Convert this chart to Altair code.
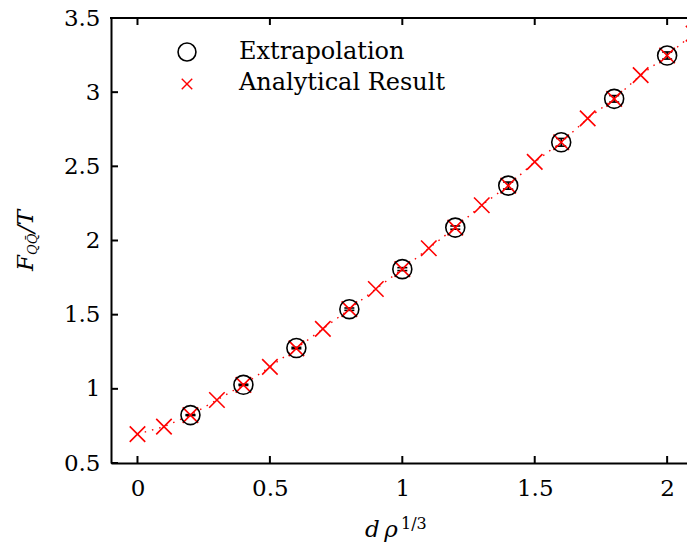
import altair as alt
import pandas as pd

# Analytical result (red crosses, dotted line)
x_analytic = [0.0, 0.1, 0.2, 0.3, 0.4, 0.5, 0.6, 0.7, 0.8, 0.9, 1.0,
              1.1, 1.2, 1.3, 1.4, 1.5, 1.6, 1.7, 1.8, 1.9, 2.0, 2.1]
y_analytic = [0.695, 0.745, 0.823, 0.925, 1.027, 1.148, 1.273, 1.404, 1.537, 1.673, 1.807,
              1.948, 2.087, 2.238, 2.370, 2.530, 2.662, 2.823, 2.955, 3.115, 3.247, 3.395]

# Extrapolation (black circles with error bars)
x_extrap = [0.2, 0.4, 0.6, 0.8, 1.0, 1.2, 1.4, 1.6, 1.8, 2.0]
y_extrap = [0.823, 1.027, 1.275, 1.537, 1.807, 2.087, 2.370, 2.662, 2.955, 3.247]
err_extrap = [0.003, 0.004, 0.005, 0.008, 0.010, 0.011, 0.024, 0.026, 0.022, 0.024]

x_ticks = [0, 0.5, 1, 1.5, 2]
y_ticks = [0.5, 1, 1.5, 2, 2.5, 3, 3.5]
legend_labels = ["Extrapolation", "Analytical Result"]

W, H = 576, 445
FONT = "DejaVu Serif"

df_a = pd.DataFrame({"x": x_analytic, "y": y_analytic})
df_e = pd.DataFrame({"x": x_extrap, "y": y_extrap, "err": err_extrap})
df_e["lo"] = df_e["y"] - df_e["err"]
df_e["hi"] = df_e["y"] + df_e["err"]
df_xt = pd.DataFrame({"t": x_ticks})
df_yt = pd.DataFrame({"t": y_ticks})
df_leg = pd.DataFrame({"label": legend_labels})

xs = alt.Scale(domain=[-0.1, 2.075], nice=False, zero=False)
ys = alt.Scale(domain=[0.5, 3.5], nice=False, zero=False)

x_axis = alt.Axis(values=x_ticks, ticks=False, domain=True, domainColor="black", domainWidth=2,
                  labelFont=FONT, labelFontSize=23, labelColor="black", labelPadding=14,
                  grid=False, title=None, labelFlush=False, labelOverlap=False,
                  labelExpr="format(datum.value, '')")
y_axis = alt.Axis(values=y_ticks, ticks=False, domain=True, domainColor="black", domainWidth=2,
                  labelFont=FONT, labelFontSize=23, labelColor="black", labelPadding=11,
                  grid=False, title=None, labelFlush=False, labelOverlap=False,
                  labelExpr="format(datum.value, '')")

line = alt.Chart(df_a).mark_line(color="red", strokeDash=[1.5, 6], strokeWidth=1.4, clip=True).encode(
    x=alt.X("x:Q", scale=xs, axis=x_axis),
    y=alt.Y("y:Q", scale=ys, axis=y_axis),
)

cross_shape = "M-1,-1L1,1M-1,1L1,-1"
crosses = alt.Chart(df_a).mark_point(shape=cross_shape, size=240, filled=False, color="red",
                                     strokeWidth=1.6, clip=True, opacity=1).encode(
    x=alt.X("x:Q", scale=xs), y=alt.Y("y:Q", scale=ys))

circles = alt.Chart(df_e).mark_point(shape="circle", size=360, filled=False, color="black",
                                     strokeWidth=1.6, opacity=1).encode(
    x=alt.X("x:Q", scale=xs), y=alt.Y("y:Q", scale=ys))

ebar = alt.Chart(df_e).mark_rule(color="black", strokeWidth=1.6).encode(
    x=alt.X("x:Q", scale=xs), y=alt.Y("lo:Q", scale=ys), y2="hi:Q")
cap_lo = alt.Chart(df_e).mark_tick(color="black", thickness=1.6, size=10, orient="horizontal", opacity=1).encode(
    x=alt.X("x:Q", scale=xs), y=alt.Y("lo:Q", scale=ys))
cap_hi = alt.Chart(df_e).mark_tick(color="black", thickness=1.6, size=10, orient="horizontal", opacity=1).encode(
    x=alt.X("x:Q", scale=xs), y=alt.Y("hi:Q", scale=ys))

# frame: top line and inward ticks
top_line = alt.Chart(df_xt).mark_rule(color="black", strokeWidth=2).encode(
    x=alt.value(-1), x2=alt.value(W), y=alt.value(0))
xt_bottom = alt.Chart(df_xt).mark_rule(color="black", strokeWidth=2).encode(
    x=alt.X("t:Q", scale=xs), y=alt.value(H), y2=alt.value(H - 7))
xt_top = alt.Chart(df_xt).mark_rule(color="black", strokeWidth=2).encode(
    x=alt.X("t:Q", scale=xs), y=alt.value(0), y2=alt.value(7))
yt_left = alt.Chart(df_yt).mark_rule(color="black", strokeWidth=2).encode(
    y=alt.Y("t:Q", scale=ys), x=alt.value(0), x2=alt.value(7))

# legend
leg_circle = alt.Chart(df_leg).transform_filter(alt.datum.label == legend_labels[0]).mark_point(
    shape="circle", size=320, filled=False, color="black", strokeWidth=1.6, opacity=1).encode(
    x=alt.value(76), y=alt.value(34))
leg_cross = alt.Chart(df_leg).transform_filter(alt.datum.label == legend_labels[1]).mark_point(
    shape=cross_shape, size=110, filled=False, color="red", strokeWidth=1.4, opacity=1).encode(
    x=alt.value(76), y=alt.value(66))
leg_text1 = alt.Chart(df_leg).transform_filter(alt.datum.label == legend_labels[0]).mark_text(
    font=FONT, fontSize=24, align="left", baseline="alphabetic", color="black").encode(
    x=alt.value(128), y=alt.value(41), text="label:N")
leg_text2 = alt.Chart(df_leg).transform_filter(alt.datum.label == legend_labels[1]).mark_text(
    font=FONT, fontSize=24, align="left", baseline="alphabetic", color="black").encode(
    x=alt.value(128), y=alt.value(72), text="label:N")

# axis titles (math-like)
def txt(s, x, y, size, style="italic", angle=0):
    props = dict(font=FONT, fontSize=size, fontStyle=style, align="left",
                 baseline="alphabetic", color="black")
    if angle:
        props["angle"] = angle
    return alt.Chart(pd.DataFrame({"s": [s]})).mark_text(**props).encode(
        x=alt.value(x), y=alt.value(y), text="s:N")

xt1 = txt("d\u2009\u03c1", 254, 519, 23)
xt2 = txt("1/3", 290, 511, 16, style="normal")
yt1 = txt("F", -78, 253, 23, angle=270)
yt2 = txt("QQ\u0304", -74, 237, 13, angle=270)
yt3 = txt("/T", -78, 215, 23, angle=270)

chart = alt.layer(
    line, ebar, cap_lo, cap_hi, crosses, circles,
    top_line, xt_bottom, xt_top, yt_left,
    leg_circle, leg_cross, leg_text1, leg_text2,
    xt1, xt2, yt1, yt2, yt3,
).properties(
    width=W, height=H,
    autosize=alt.AutoSizeParams(type="none"),
    padding={"left": 111, "top": 18, "right": 0, "bottom": 85},
    background="white",
).configure_view(stroke=None)

chart.save("out.html", embed_options={"renderer": "svg", "actions": False})
